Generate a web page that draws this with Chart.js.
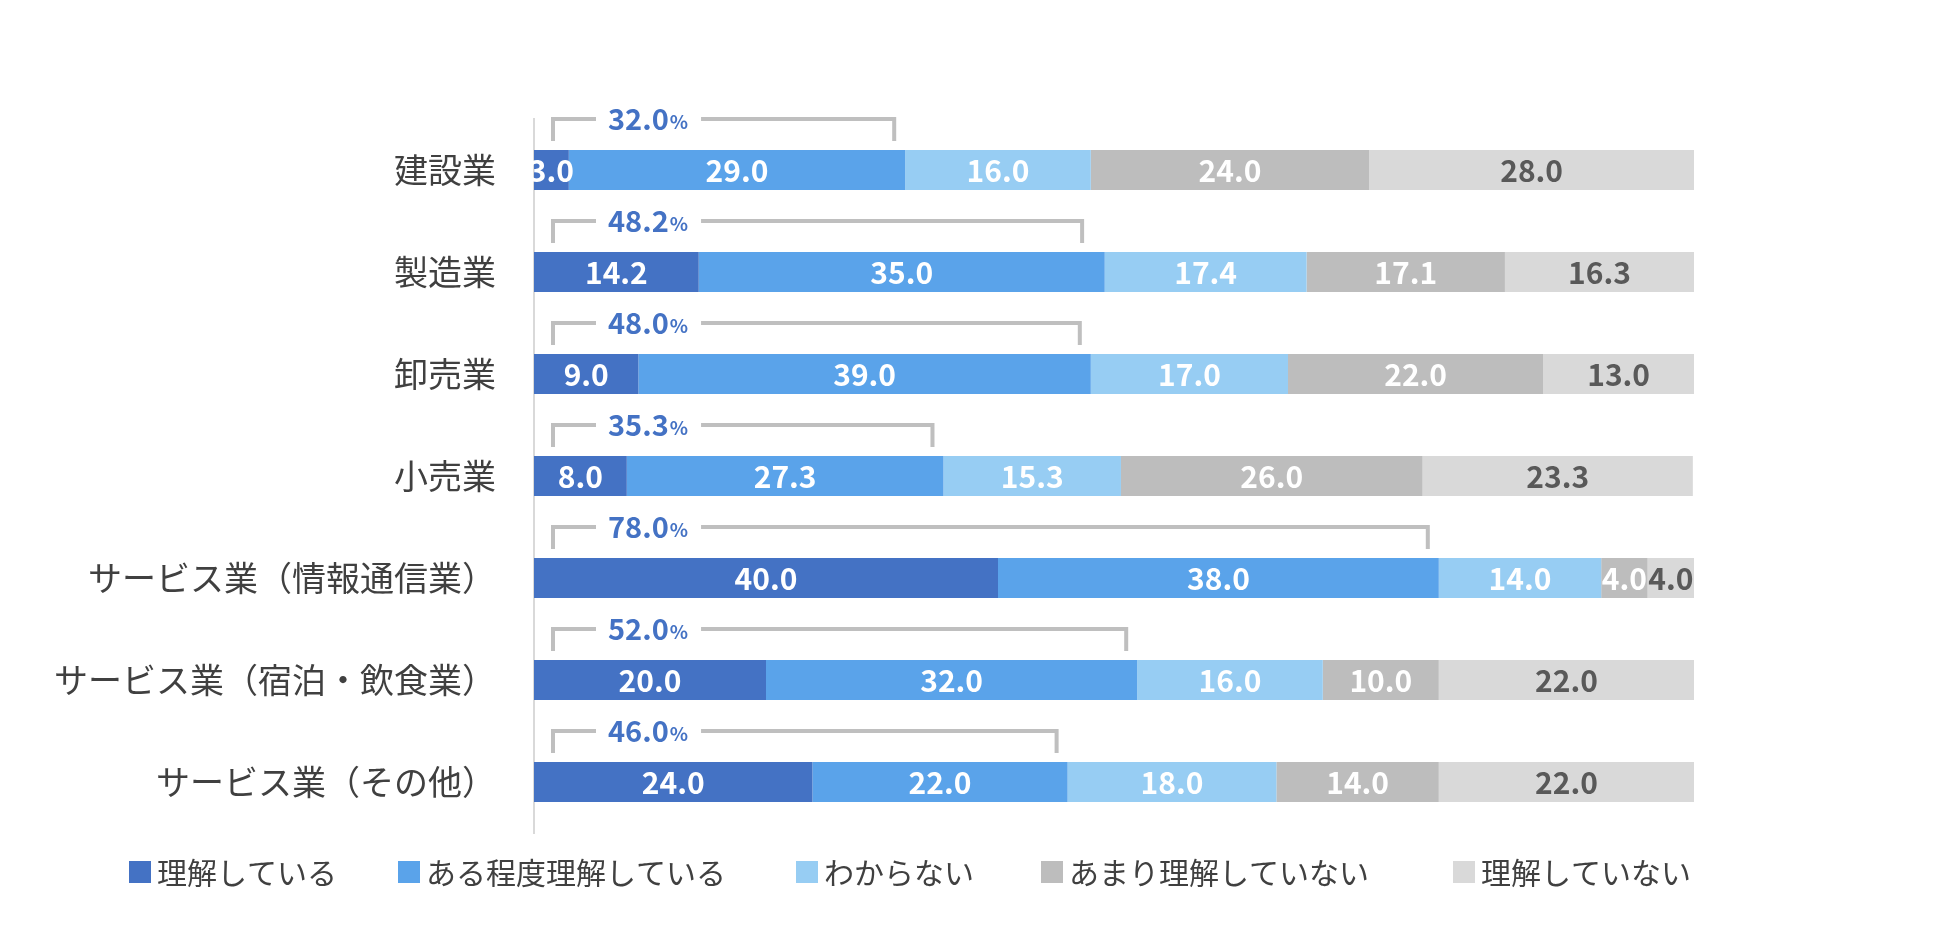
<!DOCTYPE html>
<html><head><meta charset="utf-8">
<script src="https://cdn.jsdelivr.net/npm/chart.js@4"></script>
<style>html,body{margin:0;padding:0;background:#fff}#w{width:1950px;height:947px}</style>
</head><body><div id="w"><canvas id="c"></canvas></div>
<script>
const categories=["建設業","製造業","卸売業","小売業","サービス業（情報通信業）","サービス業（宿泊・飲食業）","サービス業（その他）"];
const seriesNames=["理解している","ある程度理解している","わからない","あまり理解していない","理解していない"];
const s1=[3.0,14.2,9.0,8.0,40.0,20.0,24.0];
const s2=[29.0,35.0,39.0,27.3,38.0,32.0,22.0];
const s3=[16.0,17.4,17.0,15.3,14.0,16.0,18.0];
const s4=[24.0,17.1,22.0,26.0,4.0,10.0,14.0];
const s5=[28.0,16.3,13.0,23.3,4.0,22.0,22.0];
const bracketTotals=[32.0,48.2,48.0,35.3,78.0,52.0,46.0];
const colors=["#4472C4","#5AA3EA","#97CDF3","#BDBDBD","#D9D9D9"];
const labelColors=["#fff","#fff","#fff","#fff","#595959"];
const FONT='"Noto Sans CJK JP","Noto Sans",sans-serif';
const overlay={id:'overlay',afterDatasetsDraw(chart){
  const ctx=chart.ctx,x=chart.scales.x;
  ctx.save();ctx.textBaseline='middle';
  chart.data.datasets.forEach((ds,di)=>{
    const meta=chart.getDatasetMeta(di);
    meta.data.forEach((bar,i)=>{
      ctx.font='bold 30px '+FONT;ctx.fillStyle=labelColors[di];ctx.textAlign='center';
      const cx=(bar.x+bar.base)/2;
      ctx.fillText(ds.data[i].toFixed(1),cx,bar.y+1);
    });
  });
  const m0=chart.getDatasetMeta(0);
  m0.data.forEach((bar,i)=>{
    const top=bar.y-bar.height/2;
    const yl=top-31,yb=top-9;
    const xl=x.getPixelForValue(0)+19,xr=x.getPixelForValue(bracketTotals[i])-11;
    ctx.font='bold 29px '+FONT;
    const num=bracketTotals[i].toFixed(1);
    const w1=ctx.measureText(num).width;
    ctx.font='bold 19px '+FONT;
    const w2=ctx.measureText('%').width;
    const tx=x.getPixelForValue(0)+74;
    ctx.strokeStyle='#BFBFBF';ctx.lineWidth=4;
    ctx.beginPath();ctx.moveTo(xl,yb);ctx.lineTo(xl,yl);ctx.lineTo(tx-12,yl);
    ctx.moveTo(tx+w1+w2+14,yl);ctx.lineTo(xr,yl);ctx.lineTo(xr,yb);ctx.stroke();
    ctx.fillStyle='#4472C4';ctx.textAlign='left';
    ctx.font='bold 29px '+FONT;ctx.fillText(num,tx,yl);
    ctx.font='bold 19px '+FONT;ctx.fillText('%',tx+w1+1,yl+3);
  });
  // legend
  const lx=[129,398,796,1041,1453],ly=872;
  seriesNames.forEach((n,k)=>{
    ctx.fillStyle=colors[k];ctx.fillRect(lx[k],ly-11,22,22);
    ctx.fillStyle='#404040';ctx.font='30px '+FONT;ctx.textAlign='left';
    ctx.fillText(n,lx[k]+28,ly+1);
  });
  ctx.restore();
}};
new Chart(document.getElementById('c'),{
  type:'bar',
  data:{labels:categories,datasets:[s1,s2,s3,s4,s5].map((d,k)=>({label:seriesNames[k],data:d,backgroundColor:colors[k],borderWidth:0,categoryPercentage:1,barPercentage:0.39}))},
  options:{indexAxis:'y',responsive:true,maintainAspectRatio:false,animation:false,
    layout:{padding:{top:119,bottom:114,left:0,right:256}},
    plugins:{legend:{display:false},tooltip:{enabled:false}},
    scales:{
      x:{stacked:true,min:0,max:100,display:false},
      y:{stacked:true,grid:{display:false,drawTicks:false},border:{display:true,color:'#D9D9D9',width:2},
        ticks:{color:'#404040',font:{size:34,family:FONT},padding:38},
        afterFit(s){s.width=534;}}
    }},
  plugins:[overlay]
});
</script></body></html>
